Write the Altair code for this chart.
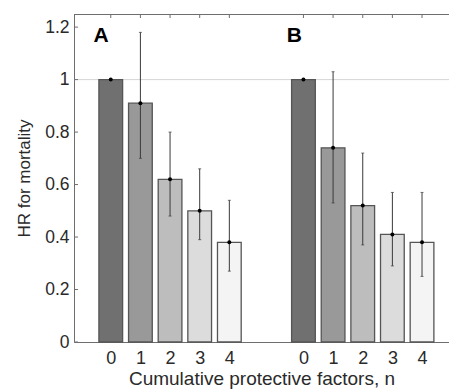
import altair as alt
import pandas as pd

# ---- data ----
groups = ["A", "B"]
n_values = [0, 1, 2, 3, 4]
hr_A = [1.00, 0.91, 0.62, 0.50, 0.38]
lo_A = [None, 0.70, 0.48, 0.39, 0.27]
hi_A = [None, 1.18, 0.80, 0.66, 0.54]
hr_B = [1.00, 0.74, 0.52, 0.41, 0.38]
lo_B = [None, 0.53, 0.37, 0.29, 0.25]
hi_B = [None, 1.03, 0.72, 0.57, 0.57]
group_offset = {"A": 1.0, "B": 7.5}   # slot positions of the two panels
y_ticks = [0, 0.2, 0.4, 0.6, 0.8, 1.0, 1.2]
bar_colors = ["#707070", "#999999", "#bdbdbd", "#dcdcdc", "#f4f4f4"]
panel_labels = ["A", "B"]
panel_label_x = [0.42, 6.94]
panel_label_y = [1.145, 1.145]

rows = []
for g, hr, lo, hi in [("A", hr_A, lo_A, hi_A), ("B", hr_B, lo_B, hi_B)]:
    for n, h, l, u in zip(n_values, hr, lo, hi):
        rows.append({"group": g, "n": n, "pos": n + group_offset[g],
                     "hr": h, "lo": l, "hi": u})
df = pd.DataFrame(rows)
err = df.dropna(subset=["lo"]).copy()
yt = pd.DataFrame({"v": y_ticks})
lab = pd.DataFrame({"t": panel_labels, "x": panel_label_x, "y": panel_label_y})

FONT = "Liberation Sans"
TXT = "#2a2a2a"
xscale = alt.Scale(domain=[-0.24, 12.41], nice=False, zero=False)
yscale = alt.Scale(domain=[0, 1.25], nice=False)
axis_col = "#6e6e6e"

x_axis = alt.Axis(
    values=list(df["pos"]),
    labelExpr="datum.value < 6 ? toString(round(datum.value - 1)) : toString(round(datum.value - 7.5))",
    ticks=False, grid=False, domainColor=axis_col, domainWidth=1,
    labelFont=FONT, labelFontSize=18, labelColor=TXT, labelPadding=7,
    title="Cumulative protective factors, n", titleFont=FONT, titleFontSize=19,
    titleFontWeight="normal", titleColor=TXT, titlePadding=2,
)
y_axis = alt.Axis(
    values=y_ticks,
    labelExpr="toString(round(datum.value*10)/10)",
    ticks=False, grid=False, domainColor=axis_col, domainWidth=1,
    labelFont=FONT, labelFontSize=17.5, labelColor=TXT, labelPadding=5,
    title="HR for mortality", titleFont=FONT, titleFontSize=17,
    titleFontWeight="normal", titleColor=TXT, titlePadding=11,
)

base = alt.Chart(df)

refline = alt.Chart(pd.DataFrame({"r": [1.0]})).mark_rule(
    color="#d6d6d6", strokeWidth=1
).encode(y=alt.Y("r:Q", scale=yscale, axis=y_axis))

bars = base.transform_calculate(
    x1="datum.pos - 0.4", x2="datum.pos + 0.4"
).mark_bar(stroke="#555555", strokeWidth=1.3).encode(
    x=alt.X("x1:Q", scale=xscale, axis=x_axis),
    x2="x2:Q",
    y=alt.Y("hr:Q", scale=yscale),
    y2=alt.datum(0),
    fill=alt.Fill("n:O", scale=alt.Scale(domain=n_values, range=bar_colors), legend=None),
)

errbars = alt.Chart(err).mark_rule(color="#3a3a3a", strokeWidth=1).encode(
    x=alt.X("pos:Q", scale=xscale), y=alt.Y("lo:Q", scale=yscale), y2="hi:Q"
)
cap_lo = alt.Chart(err).mark_tick(orient="horizontal", size=3, thickness=1, color="#3a3a3a").encode(
    x=alt.X("pos:Q", scale=xscale), y=alt.Y("lo:Q", scale=yscale)
)
cap_hi = alt.Chart(err).mark_tick(orient="horizontal", size=3, thickness=1, color="#3a3a3a").encode(
    x=alt.X("pos:Q", scale=xscale), y=alt.Y("hi:Q", scale=yscale)
)
dots = base.mark_point(filled=True, color="black", size=16, opacity=1).encode(
    x=alt.X("pos:Q", scale=xscale), y=alt.Y("hr:Q", scale=yscale)
)

left_ticks = alt.Chart(yt).mark_rule(color=axis_col, strokeWidth=1).encode(
    y=alt.Y("v:Q", scale=yscale), x=alt.value(0), x2=alt.value(4)
)
top_ticks = base.mark_rule(color=axis_col, strokeWidth=1).encode(
    x=alt.X("pos:Q", scale=xscale), y=alt.value(0), y2=alt.value(4)
)
top_line = alt.Chart(pd.DataFrame({"r": [0]})).mark_rule(color=axis_col, strokeWidth=1).encode(
    y=alt.value(0.5)
)

labels = alt.Chart(lab).mark_text(
    font=FONT, fontSize=21, fontWeight="bold", align="left", baseline="alphabetic", color="black"
).encode(
    x=alt.X("x:Q", scale=xscale), y=alt.Y("y:Q", scale=yscale), text="t:N"
)

chart = alt.layer(
    refline, bars, errbars, cap_lo, cap_hi, dots, left_ticks, top_ticks, top_line, labels
).properties(
    width=375, height=328,
    padding={"left": 74, "top": 14, "right": 0, "bottom": 49},
    autosize=alt.AutoSizeParams(type="none"),
    background="white",
).configure_view(stroke=None)

chart.save("out.html", embed_options={"renderer": "svg", "actions": False})
